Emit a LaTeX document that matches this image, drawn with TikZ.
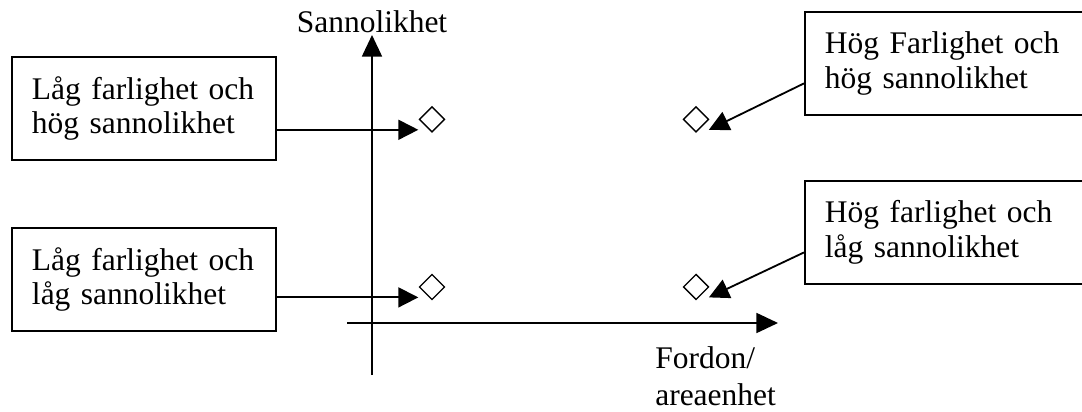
\documentclass[tikz,border=0pt]{standalone}
\usepackage{fontspec}
\setmainfont{Liberation Serif}
\usepackage{tikz}
\usetikzlibrary{shapes.geometric, arrows.meta, positioning}

\begin{document}
\begin{tikzpicture}[
  box/.style={draw, line width=1.3pt, align=left, font=\fontsize{22.4pt}{24.7pt}\selectfont,
              inner xsep=0.5cm, inner ysep=0pt, text width=5.6cm, minimum height=2.58cm},
  wide/.style={box, text width=6.1cm},
  lbl/.style={font=\fontsize{22.4pt}{26.1pt}\selectfont, inner sep=0pt},
  dia/.style={diamond, draw, line width=1pt, minimum size=0.625cm, inner sep=0pt, outer sep=0pt},
  axis/.style={-{Triangle[length=0.54cm, width=0.5cm]}, line width=1.3pt},
  arr/.style={-{Triangle[length=0.5cm, width=0.5cm]}, line width=1.3pt}
]
\useasboundingbox (-9.3,-2.2) rectangle (17.75,8.075);

\coordinate (ybot) at (0,-1.3);
\coordinate (ytop) at (0,7.2);
\coordinate (xleft) at (-0.625,0);
\coordinate (xright) at (10.15,0);
\draw[axis] (ybot) -- (ytop);
\draw[axis] (xleft) -- (xright);
\node[lbl, anchor=base] (ylab) at (0,7.25) {Sannolikhet};
\node[lbl, anchor=base west, align=left] (xlab) at (7.075,-2.05) {Fordon/\\areaenhet};

\node[box] (b1) at (-5.7,5.36) {Låg farlighet och\\hög sannolikhet};
\node[box, below=1.65cm of b1] (b2) {Låg farlighet och\\låg sannolikhet};
\node[wide, anchor=west] (b3) at (10.8,6.49) {Hög Farlighet och\\hög sannolikhet};
\node[wide, below=1.6cm of b3] (b4) {Hög farlighet och\\låg sannolikhet};

\node[dia] (d1) at (1.5,5.09) {};
\node[dia] (d2) at (1.5,0.9) {};
\node[dia] (d3) at (8.1,5.09) {};
\node[dia] (d4) at (8.1,0.9) {};

\coordinate (t1) at ([shift={(-0.03,-0.26)}]d1.west);
\coordinate (t2) at ([shift={(-0.03,-0.26)}]d2.west);
\coordinate (t3) at ([shift={(0.01,-0.26)}]d3.east);
\coordinate (t4) at ([shift={(0.01,-0.26)}]d4.east);

\draw[arr] (b1.east |- t1) -- (t1);
\draw[arr] (b2.east |- t2) -- (t2);
\draw[arr] ([yshift=-0.5cm]b3.west) -- (t3);
\draw[arr] ([yshift=-0.5cm]b4.west) -- (t4);
\end{tikzpicture}
\end{document}
